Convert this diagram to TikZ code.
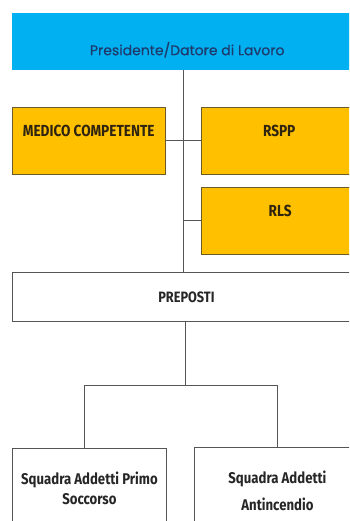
\documentclass[tikz,border=0pt]{standalone}
\usepackage{fontspec}
\newfontfamily\titlefont[FakeBold=0.4]{Poppins}
\newfontfamily\boxfont[FakeStretch=0.85]{Fira Sans}
\usetikzlibrary{positioning}
\definecolor{presblue}{HTML}{00B0F0}
\definecolor{gold}{HTML}{FFC000}
\definecolor{goldline}{HTML}{6B5A2A}
\definecolor{greyline}{HTML}{555555}
\definecolor{navy}{HTML}{1F3A6D}
\definecolor{brownink}{HTML}{2E2410}

\begin{document}
\begin{tikzpicture}[x=1pt,y=-1pt]
	\tikzstyle{role} = [draw=goldline, fill=gold, rectangle, anchor=north west, inner sep=0pt, minimum height=67pt, text height=29pt, text depth=38pt, text=brownink, font={\boxfont\bfseries\fontsize{16}{19}\selectfont}]
	\tikzstyle{team} = [draw=greyline, line width=0.9pt, fill=white, rectangle, anchor=north west, inner xsep=0pt, inner ysep=23pt, align=center, text=black!85, font={\boxfont\bfseries\fontsize{15.5}{20}\selectfont}]
	\tikzstyle{link} = [draw=greyline, line width=0.8pt]
	\clip (0,0) rectangle (349,521);
	\fill[white] (0,0) rectangle (349,521);

	\node[fill=presblue, rectangle, anchor=north west, inner sep=0pt, minimum width=350pt, minimum height=57pt, text height=42pt, text depth=15pt, text=navy, font={\titlefont\fontsize{14}{16}\selectfont}] (pres) at (12,13) {Presidente/Datore di Lavoro};

	\node[role, minimum width=153pt] (medico) at (12,107) {MEDICO COMPETENTE};
	\node[role, minimum width=156pt] (rspp) at (201,107) {RSPP};
	\node[role, minimum width=158pt] (rls) at (201,187) {RLS};

	\node[team, minimum width=348pt, inner ysep=0pt, minimum height=49pt, text height=30pt, text depth=19pt, font={\boxfont\bfseries\fontsize{15}{18}\selectfont}] (prep) at (12,272) {PREPOSTI};

	\node[team, minimum width=154pt] (primo) at (12,448) {Squadra Addetti Primo\\Soccorso};
	\node[team, minimum width=166pt, font={\boxfont\bfseries\fontsize{15.5}{27}\selectfont}] (fuoco) at (194,447) {Squadra Addetti\\Antincendio};

	% connectors
	\coordinate (spine) at (183,0);
	\draw[link] (pres.south -| spine) -- (prep.north -| spine);
	\draw[link] (medico.east) -- (rspp.west);
	\draw[link] (rls.west) -- (rls.west -| spine);
	\draw[link] ([xshift=2pt]prep.south -| spine) -- ++(0,63) coordinate (fork);
	\draw[link] ([xshift=-5pt]primo.north) |- (fork) -| (fuoco.north);
\end{tikzpicture}
\end{document}
